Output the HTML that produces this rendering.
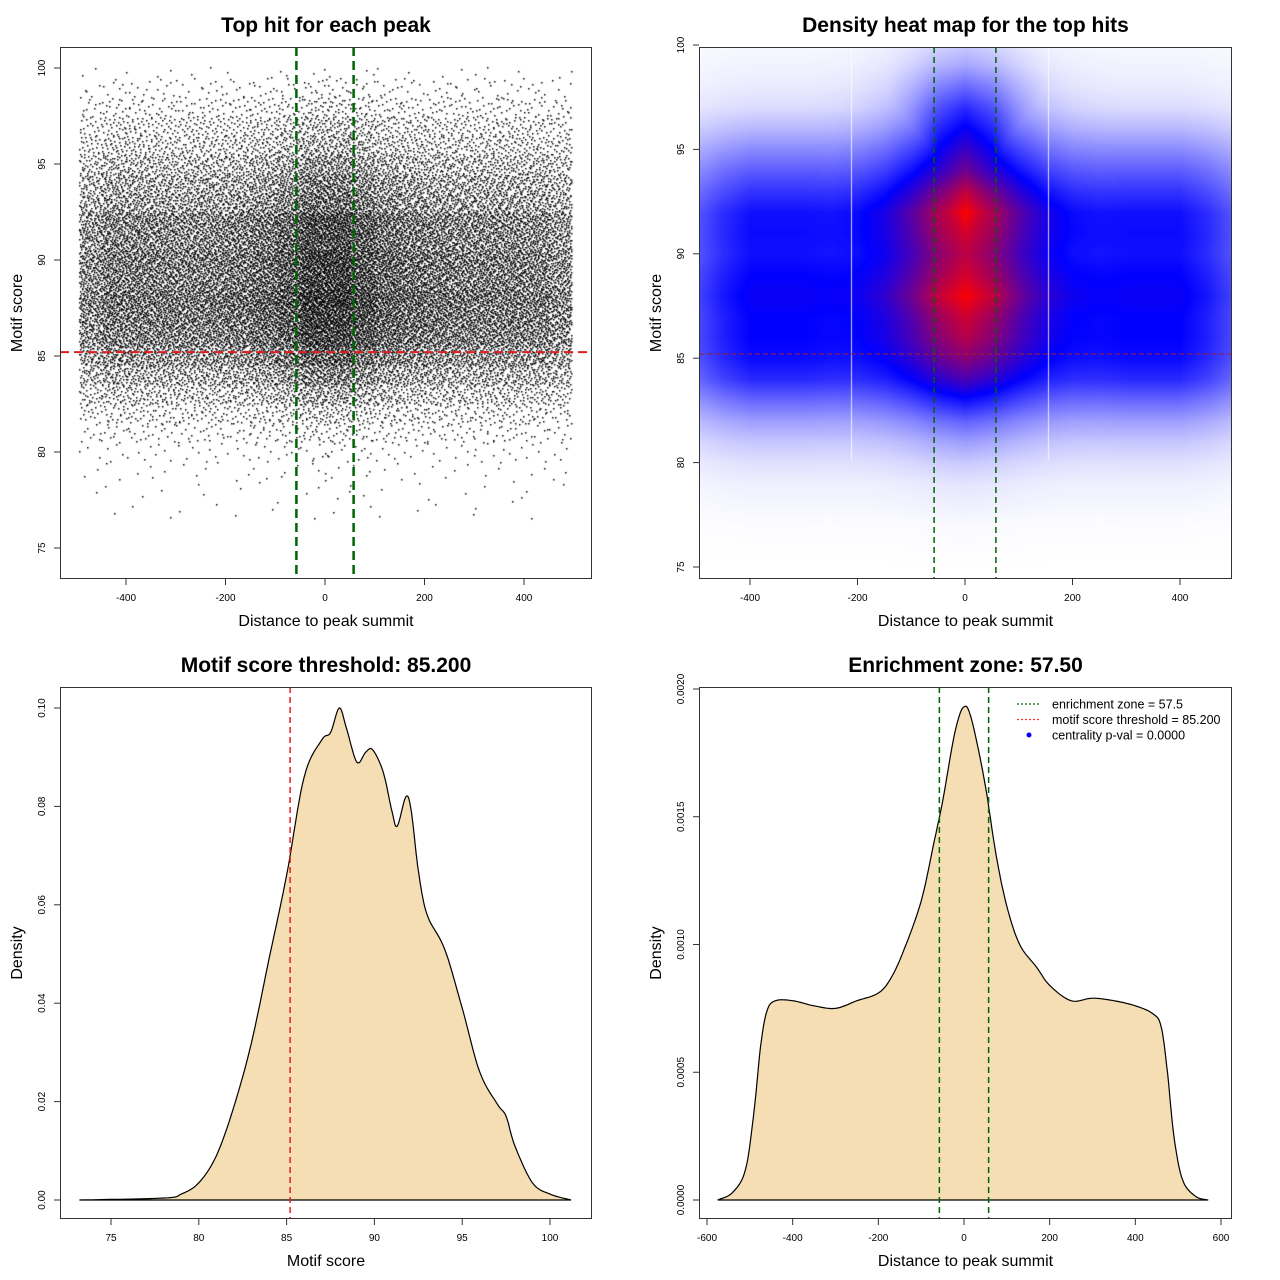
<!DOCTYPE html>
<html><head><meta charset="utf-8">
<style>
html,body{margin:0;padding:0;background:#fff;}
#wrap{position:relative;width:1280px;height:1280px;overflow:hidden;font-family:"Liberation Sans",sans-serif;}
canvas{position:absolute;}
svg{position:absolute;left:0;top:0;}
</style></head>
<body>
<div id="wrap">
<canvas id="scat" width="532" height="532" style="left:60px;top:47px"></canvas>
<canvas id="heat" width="533" height="532" style="left:699px;top:47px"></canvas>
<svg id="svg" width="1280" height="1280"></svg>
</div>
<script>
// ---- data ----
const scatterScores = [74,75,76,77,78,79,80,81,82,83,84,85,86,87,88,89,90,91,92,93,94,95,96,97,98,99,100];
const scatterScoreFrac = [0.00005,0.0001,0.0002,0.0004,0.0008,0.0015,0.003,0.008,0.016,0.03,0.047,0.066,0.085,0.092,0.098,0.088,0.09,0.08,0.08,0.058,0.05,0.038,0.026,0.02,0.011,0.005,0.0015];
const scatterDistBins = [-500,-450,-400,-350,-300,-250,-200,-150,-100,-50,0,50,100,150,200,250,300,350,400,450];
const scatterDistWeight = [0.65,0.8,0.8,0.78,0.77,0.8,0.84,0.95,1.1,1.4,1.4,1.2,1.0,0.9,0.84,0.8,0.8,0.79,0.77,0.65];
const scatterTotal = 30000;

const heatScores = [75,77,79,80,81,82,83,84,85,86,87,88,89,90,91,92,93,94,95,96,97,98,99,100];
const heatFlank  = [0,0.005,0.03,0.06,0.11,0.19,0.3,0.42,0.48,0.5,0.5,0.52,0.5,0.47,0.48,0.47,0.4,0.32,0.23,0.14,0.07,0.04,0.025,0.015];
const heatCenter = [0,0.01,0.05,0.1,0.18,0.28,0.42,0.55,0.68,0.8,0.88,1.0,0.9,0.86,0.92,1.0,0.88,0.72,0.62,0.52,0.42,0.3,0.18,0.1];
const heatDist   = [-500,-450,-400,-300,-250,-200,-150,-100,-50,0,50,100,150,200,250,300,400,450,500];
const heatCenterShape = [0,0,0,0,0.03,0.1,0.25,0.5,0.82,1,0.82,0.5,0.25,0.1,0.03,0,0,0,0];
const heatFlankShape  = [0.7,0.88,1,1,0.95,0.9,0.85,0.8,0.75,0.75,0.75,0.8,0.85,0.9,0.95,1,1,0.88,0.7];

const scoreX = [73.2,78,79,80,81,82,83,84,85,86,87,87.5,88,88.4,89,89.5,89.9,90.5,91,91.3,91.8,92.1,92.5,93,94,95,96,97,97.5,98,99,100,101.2];
const scoreDens = [0,0.0004,0.0012,0.0035,0.009,0.019,0.032,0.049,0.066,0.086,0.0935,0.095,0.1,0.096,0.089,0.091,0.0915,0.087,0.079,0.076,0.082,0.079,0.067,0.058,0.051,0.039,0.026,0.0195,0.017,0.011,0.0035,0.0012,0];

const distX = [-575,-540,-510,-490,-475,-460,-440,-400,-350,-300,-250,-200,-170,-140,-100,-70,-50,-25,-10,0,10,25,50,75,100,130,170,200,250,300,350,400,440,460,475,490,510,540,570];
const distDens = [0,0.3,1.2,3.5,6,7.4,7.8,7.8,7.6,7.5,7.8,8.1,8.7,9.8,11.7,14,15.6,18,19,19.3,19.2,18.3,16.2,13.5,11.5,10,9.1,8.4,7.8,7.9,7.8,7.6,7.3,6.8,5,2.5,0.8,0.15,0]; // x1e-4

const threshold = 85.2, zone = 57.5;

// ---- helpers ----
const NS="http://www.w3.org/2000/svg";
const svg=document.getElementById('svg');
function mk(tag,attrs,parent){const e=document.createElementNS(NS,tag);for(const k in attrs)e.setAttribute(k,attrs[k]);(parent||svg).appendChild(e);return e;}
function lin(d0,d1,r0,r1){return v=>r0+(v-d0)*(r1-r0)/(d1-d0);}
function interp(xs,ys,x){if(x<=xs[0])return ys[0];for(let i=1;i<xs.length;i++){if(x<=xs[i]){const t=(x-xs[i-1])/(xs[i]-xs[i-1]);return ys[i-1]+t*(ys[i]-ys[i-1]);}}return ys[ys.length-1];}

const P=[
 {l:60,t:47,r:592,b:579,x:lin(0,400,325,524),y:lin(75,100,548,68)},
 {l:699,t:47,r:1232,b:579,x:lin(0,400,965,1180),y:lin(75,100,567,45)},
 {l:60,t:687,r:592,b:1219,x:lin(75,100,111,550),y:lin(0,0.1,1200,708)},
 {l:699,t:687,r:1232,b:1219,x:lin(0,600,964,1221),y:lin(0,0.002,1200,689)}
];
const titles=["Top hit for each peak","Density heat map for the top hits","Motif score threshold: 85.200","Enrichment zone: 57.50"];
const xlabs=["Distance to peak summit","Distance to peak summit","Motif score","Distance to peak summit"];
const ylabs=["Motif score","Motif score","Density","Density"];
const xt=[[-400,-200,0,200,400],[-400,-200,0,200,400],[75,80,85,90,95,100],[-600,-400,-200,0,200,400,600]];
const yt=[[75,80,85,90,95,100],[75,80,85,90,95,100],[0,0.02,0.04,0.06,0.08,0.1],[0,0.0005,0.001,0.0015,0.002]];
const yfmt=[v=>String(v),v=>String(v),v=>v.toFixed(2),v=>v.toFixed(4)];

// ---- scatter ----
(function(){
 const c=document.getElementById('scat').getContext('2d');
 c.fillStyle='#000';
 const p=P[0];
 const fsum=scatterDistWeight.reduce((a,b)=>a+b,0);
 function halton(i,b){let f=1,r=0;while(i>0){f/=b;r+=f*(i%b);i=Math.floor(i/b);}return r;}
 let k=1;
 scatterScores.forEach((s,si)=>{
  scatterDistBins.forEach((d,di)=>{
   const n=Math.round(scatterTotal*scatterScoreFrac[si]*scatterDistWeight[di]/fsum);
   for(let j=0;j<n;j++,k++){
    const dx=d+halton(k,2)*50;
    if(dx>495||dx<-495)continue;
    const sy=s-0.5+halton(k,3);
    if(sy>100.05)continue;
    c.fillRect(Math.round(p.x(dx)-p.l),Math.round(p.y(sy)-p.t),1.5,1.5);
   }
  });
 });
})();

// ---- heatmap ----
(function(){
 const cv=document.getElementById('heat'),c=cv.getContext('2d');
 const p=P[1];const W=cv.width,H=cv.height;
 const img=c.createImageData(W,H);
 const invx=lin(965,1180,0,400), invy=lin(567,45,75,100);
 for(let py=0;py<H;py++){
  const s=invy(py+p.t);
  const fl=interp(heatScores,heatFlank,s), ce=interp(heatScores,heatCenter,s);
  for(let px=0;px<W;px++){
   const d=invx(px+p.l);
   let v=fl*interp(heatDist,heatFlankShape,d);
   const cv2=ce*interp(heatDist,heatCenterShape,d);
   v=Math.max(v,cv2, v+cv2*0.6);
   v=Math.min(1,v);
   let r,g,b;
   if(v<0.5){const t=v/0.5;r=255*(1-t);g=255*(1-t);b=255;}
   else{const t=(v-0.5)/0.5;r=255*t;g=0;b=255*(1-t);}
   const i=(py*W+px)*4;img.data[i]=r;img.data[i+1]=g;img.data[i+2]=b;img.data[i+3]=255;
  }
 }
 c.putImageData(img,0,0);
 c.fillStyle='rgba(255,255,255,0.8)';
 c.fillRect(851-p.l,0,1,460-p.t);
 c.fillRect(1048-p.l,0,1,460-p.t);
})();

// ---- density polygons (Catmull-Rom smoothed) ----
function densPoly(p,xs,ys,scale,name){
 const pts=[];
 for(let i=0;i<xs.length-1;i++){
  const x0=xs[Math.max(0,i-1)],x1=xs[i],x2=xs[i+1],x3=xs[Math.min(xs.length-1,i+2)];
  const y0=ys[Math.max(0,i-1)],y1=ys[i],y2=ys[i+1],y3=ys[Math.min(xs.length-1,i+2)];
  for(let s=0;s<10;s++){
   const t=s/10,t2=t*t,t3=t2*t;
   const f=(a,b,c,d)=>0.5*((2*b)+(-a+c)*t+(2*a-5*b+4*c-d)*t2+(-a+3*b-3*c+d)*t3);
   const X=f(x0,x1,x2,x3), Y=Math.max(0,f(y0,y1,y2,y3));
   pts.push(p.x(X).toFixed(1)+','+p.y(Y*scale).toFixed(1));
  }
 }
 pts.push(p.x(xs[xs.length-1]).toFixed(1)+','+p.y(0).toFixed(1));
 const e=mk('polygon',{points:pts.join(' '),fill:'#F5DEB3',stroke:'#000','stroke-width':1.2});
 
 
}
densPoly(P[2],scoreX,scoreDens,1,'score-density-curve');
densPoly(P[3],distX,distDens,1e-4,'distance-density-curve');

// ---- reference lines ----
function vline(p,x,col,w,dash,name){const e=mk('line',{x1:p.x(x),x2:p.x(x),y1:p.t,y2:p.b,stroke:col,'stroke-width':w,'stroke-dasharray':dash});}
function hline(p,y,col,w,dash,name){const e=mk('line',{x1:p.l,x2:p.r,y1:p.y(y),y2:p.y(y),stroke:col,'stroke-width':w,'stroke-dasharray':dash});}
vline(P[0],-zone,'#006400',2.5,'9,5','zone-left-line');
vline(P[0],zone,'#006400',2.5,'9,5','zone-right-line');
hline(P[0],threshold,'#e02020',2,'9,5','threshold-line');
vline(P[1],-zone,'#006400',1.5,'6,4','zone-left-line');
vline(P[1],zone,'#006400',1.5,'6,4','zone-right-line');
hline(P[1],threshold,'#a02020',1,'5,3','threshold-line');
vline(P[2],threshold,'#e02020',1.5,'6,4','threshold-line');
vline(P[3],-zone,'#006400',1.5,'6,4','zone-left-line');
vline(P[3],zone,'#006400',1.5,'6,4','zone-right-line');

// ---- axes ----
P.forEach((p,i)=>{
 const box=mk('rect',{x:p.l+0.5,y:p.t+0.5,width:p.r-p.l-1,height:p.b-p.t-1,fill:'none',stroke:'#333','stroke-width':1});
 
 
 xt[i].forEach(v=>{
  const x=p.x(v);
  mk('line',{x1:x,x2:x,y1:p.b,y2:p.b+6,stroke:'#333'});
  const t=mk('text',{x:x,y:p.b+22,'font-size':10,'text-anchor':'middle',fill:'#000'});
  t.textContent=String(v);
  
  
 });
 yt[i].forEach(v=>{
  const y=p.y(v);
  mk('line',{x1:p.l-6,x2:p.l,y1:y,y2:y,stroke:'#333'});
  const t=mk('text',{x:p.l-15,y:y,'font-size':10,'text-anchor':'middle',fill:'#000',transform:`rotate(-90 ${p.l-15} ${y})`});
  t.textContent=yfmt[i](v);
  
  
 });
 const cx=(p.l+p.r)/2, cy=(p.t+p.b)/2;
 const tt=mk('text',{x:cx,y:p.t-15,'font-size':21,'font-weight':'bold','text-anchor':'middle'});
 tt.textContent=titles[i];
 
 
 const xl=mk('text',{x:cx,y:p.b+47,'font-size':16,'text-anchor':'middle'});
 xl.textContent=xlabs[i];
 
 
 const yx=p.l-38;
 const yl=mk('text',{x:yx,y:cy,'font-size':16,'text-anchor':'middle',transform:`rotate(-90 ${yx} ${cy})`});
 yl.textContent=ylabs[i];
 
 
});

// ---- legend ----
const lg=mk('g',{});


const legItems=[["enrichment zone = 57.5","#006400","line"],["motif score threshold = 85.200","#ff3030","line"],["centrality p-val = 0.0000","#0000ff","dot"]];
legItems.forEach((it,i)=>{
 const y=704+i*15.5;
 if(it[2]==='line') mk('line',{x1:1017,x2:1041,y1:y,y2:y,stroke:it[1],'stroke-width':1.3,'stroke-dasharray':'2,2'},lg);
 else mk('circle',{cx:1029,cy:y,r:2.5,fill:it[1]},lg);
 const t=mk('text',{x:1052,y:y+4.5,'font-size':12.5},lg);
 t.textContent=it[0];
 
 
});
</script>
</body></html>
